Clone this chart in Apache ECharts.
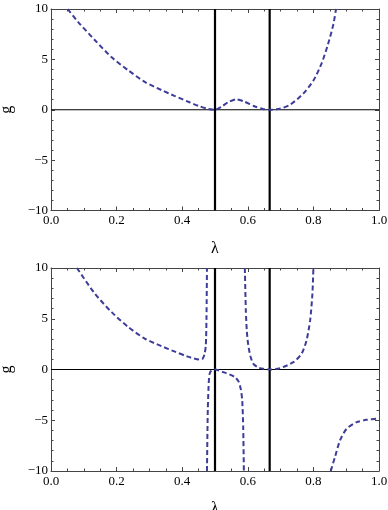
<!DOCTYPE html>
<html><head><meta charset="utf-8">
<script src="https://cdn.jsdelivr.net/npm/echarts@6/dist/echarts.min.js"></script>
<style>html,body{margin:0;padding:0;background:#fff}#c{width:388px;height:510px}</style>
</head><body><div id="c"></div>
<script>
// Top panel (single curve)
var topL = [0.051,0.083,0.134,0.185,0.236,0.287,0.337,0.376,0.424,0.45,0.48,0.5,0.52,0.54,0.565,0.59,0.62,0.645,0.667,0.698,0.729,0.769,0.8,0.825,0.845,0.861,0.869];
var topG = [10,8.7,6.9,5.2,3.9,2.74,1.95,1.38,0.72,0.38,0.07,0,0.3,0.75,1.04,0.8,0.35,0.08,0,0.1,0.5,1.6,2.9,4.6,6.55,8.5,10];
// Bottom panel branches
var b1L = [0.079,0.134,0.185,0.236,0.287,0.337,0.376,0.414,0.454,0.462,0.468,0.472,0.474,0.4755];
var b1G = [10,7.46,5.65,4.17,3.02,2.3,1.78,1.3,0.98,1.05,1.5,2.4,5.0,10];
var b2L = [0.4755,0.477,0.478,0.480,0.483,0.489,0.5,0.525,0.545,0.561,0.572,0.579,0.583,0.586,0.588];
var b2G = [-10,-6,-4,-2,-0.5,-0.1,0,-0.26,-0.5,-0.76,-1.2,-2.0,-3.05,-5.7,-10];
var b3L = [0.591,0.594,0.597,0.601,0.608,0.617,0.632,0.647,0.667,0.698,0.739,0.764,0.779,0.79,0.797,0.8];
var b3G = [10,5.8,3.8,2.5,1.3,0.56,0.2,0.07,0,0.13,0.72,1.55,2.86,4.83,7.46,10];
var b4L = [0.853,0.866,0.881,0.901,0.932,0.962,1.0];
var b4G = [-10,-8.6,-7.0,-5.85,-5.19,-4.96,-4.83];
var vLines = [0.5, 2/3];
var xTicks = [0, 0.2, 0.4, 0.6, 0.8, 1.0];
var yTicks = [-10, -5, 0, 5, 10];

function pairs(a, b) { return a.map(function (v, i) { return [v, b[i]]; }); }

var grids = [
  {left: 51, right: 9, top: 9, height: 201.5, outerBoundsMode: 'none', containLabel: false},
  {left: 51, right: 9, top: 268, height: 203, outerBoundsMode: 'none', containLabel: false}
];
var FONT = "'Liberation Serif', 'Times New Roman', serif";
var frame = '#444';
var xAxes = [], yAxes = [], series = [];
grids.forEach(function (g, gi) {
  [['bottom', true], ['top', false]].forEach(function (p) {
    xAxes.push({
      type: 'value', gridIndex: gi, position: p[0], min: 0, max: 1, interval: 0.2,
      name: p[1] ? 'λ' : '', nameLocation: 'middle', nameGap: 30,
      nameTextStyle: {fontFamily: FONT, fontSize: 16, color: '#000'},
      axisLine: {show: true, onZero: false, lineStyle: {color: frame, width: 1}},
      axisTick: {show: true, inside: true, length: 4, lineStyle: {color: frame}},
      minorTick: {show: true, splitNumber: 4, length: 2.5, lineStyle: {color: frame}},
      splitLine: {show: false},
      axisLabel: {show: p[1], fontFamily: FONT, fontSize: 13, color: '#000', margin: 4,
        formatter: function (v) { return v.toFixed(1); }}
    });
  });
  [['left', true], ['right', false]].forEach(function (p) {
    yAxes.push({
      type: 'value', gridIndex: gi, position: p[0], min: -10, max: 10, interval: 5,
      name: p[1] ? 'g' : '', nameLocation: 'middle', nameGap: 36, nameRotate: 90,
      nameTextStyle: {fontFamily: FONT, fontSize: 16, color: '#000'},
      axisLine: {show: true, onZero: false, lineStyle: {color: frame, width: 1}},
      axisTick: {show: true, inside: true, length: 4, lineStyle: {color: frame}},
      minorTick: {show: true, splitNumber: 5, length: 2.5, lineStyle: {color: frame}},
      splitLine: {show: false},
      axisLabel: {show: p[1], fontFamily: FONT, fontSize: 13, color: '#000', margin: 3,
        formatter: function (v) { return v < 0 ? '\u2212' + Math.abs(v) : String(v); }}
    });
  });
  var xi = gi * 2, yi = gi * 2;
  series.push({type: 'line', xAxisIndex: xi, yAxisIndex: yi, data: [[0, 0], [1, 0]],
    symbol: 'none', silent: true, lineStyle: {color: '#000', width: 1}, z: 1});
  vLines.forEach(function (v) {
    series.push({type: 'line', xAxisIndex: xi, yAxisIndex: yi, data: [[v, -10], [v, 10]],
      symbol: 'none', silent: true, lineStyle: {color: '#000', width: 2.2}, z: 2});
  });
});
var curveStyle = {color: '#3d3d99', width: 2, type: [5, 3]};
function curve(gi, L, G) {
  series.push({type: 'line', xAxisIndex: gi * 2, yAxisIndex: gi * 2, data: pairs(L, G),
    symbol: 'none', smooth: 0.25, clip: true,
    lineStyle: curveStyle, z: 3});
}
curve(0, topL, topG);
curve(1, b1L, b1G);
curve(1, b2L, b2G);
curve(1, b3L, b3G);
curve(1, b4L, b4G);

var chart = echarts.init(document.getElementById('c'), null, {renderer: 'canvas'});
chart.setOption({
  animation: false, backgroundColor: '#fff',
  grid: grids, xAxis: xAxes, yAxis: yAxes, series: series
});
</script></body></html>
